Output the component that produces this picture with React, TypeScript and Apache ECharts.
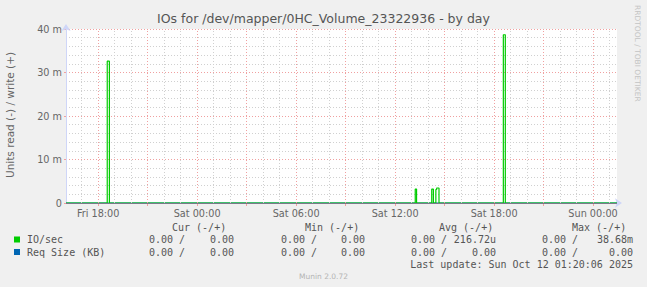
import React, { useEffect, useRef } from "react";
import * as echarts from "echarts";

// Hours since Fri 00:00
const xMin = 16.05;
const xMax = 49.45;
const xTickHours = [18, 24, 30, 36, 42, 48];
const xTickLabels = ["Fri 18:00", "Sat 00:00", "Sat 06:00", "Sat 12:00", "Sat 18:00", "Sun 00:00"];
const majorHours = [18, 21, 24, 27, 30, 33, 36, 39, 42, 45, 48];
const minorHours = [17, 19, 20, 22, 23, 25, 26, 28, 29, 31, 32, 34, 35, 37, 38, 40, 41, 43, 44, 46, 47, 49];

// IO/sec (write, milli units), step samples
const ioTimes = [16.05, 18.55, 18.68, 37.22, 37.3, 38.22, 38.32, 38.47, 38.52, 38.66, 42.56, 42.68, 49.45];
const ioValues = [0, 32.6, 0, 3.2, 0, 3.2, 0, 3.1, 3.45, 0, 38.68, 0, 0];

// Req Size (KB)
const reqTimes = [16.05, 49.45];
const reqValues = [0, 0];

const legendNames = ["IO/sec", "Req Size (KB)"];
const legendColors = ["#00CC00", "#0066B3"];
const headerLabels = ["Cur (-/+)", "Min (-/+)", "Avg (-/+)", "Max (-/+)"];
const ioReadStats = ["0.00", "0.00", "0.00", "0.00"];
const ioWriteStats = ["0.00", "0.00", "216.72u", "38.68m"];
const reqReadStats = ["0.00", "0.00", "0.00", "0.00"];
const reqWriteStats = ["0.00", "0.00", "0.00", "0.00"];
const lastUpdate = "Last update: Sun Oct 12 01:20:06 2025";

const FONT = "DejaVu Sans";
const MONO = "DejaVu Sans Mono";
const TXT = "#555555";

export default function App() {
  const ref = useRef<HTMLDivElement>(null);
  useEffect(() => {
    if (!ref.current) return;
    const chart = echarts.init(ref.current, null, { renderer: "svg" });

    const headerLeft = [172, 305, 439, 572];
    const colLeft = [149, 281, 411, 542];
    const colRight = [234, 365, 496, 633];
    const rowY = [239.5, 252];

    const graphic: any[] = [];
    graphic.push({
      type: "text", x: 323.5, y: 18,
      style: { text: "IOs for /dev/mapper/0HC_Volume_23322936 - by day", font: `12.5px '${FONT}'`, fill: TXT, textAlign: "center", textVerticalAlign: "middle" },
    });
    graphic.push({
      type: "text", x: 10, y: 115, rotation: Math.PI / 2,
      style: { text: "Units read (-) / write (+)", font: `10.5px '${FONT}'`, fill: "#666", textAlign: "center", textVerticalAlign: "middle" },
    });
    graphic.push({
      type: "text", x: 637, y: 5, rotation: -Math.PI / 2,
      style: { text: "RRDTOOL / TOBI OETIKER", font: `7.5px '${FONT}'`, fill: "#c4c4c4", textAlign: "left", textVerticalAlign: "middle" },
    });
    headerLabels.forEach((h, i) => {
      graphic.push({ type: "text", x: headerLeft[i], y: 227, style: { text: h, font: `10px '${MONO}'`, fill: TXT, textAlign: "left", textVerticalAlign: "middle" } });
    });
    const rows = [
      [ioReadStats, ioWriteStats],
      [reqReadStats, reqWriteStats],
    ];
    legendNames.forEach((n, r) => {
      graphic.push({ type: "rect", shape: { x: 14, y: rowY[r] - 3, width: 6, height: 6 }, style: { fill: legendColors[r] } });
      graphic.push({ type: "text", x: 27, y: rowY[r], style: { text: n, font: `10px '${MONO}'`, fill: TXT, textAlign: "left", textVerticalAlign: "middle" } });
      for (let c = 0; c < 4; c++) {
        graphic.push({ type: "text", x: colLeft[c], y: rowY[r], style: { text: rows[r][0][c] + " /", font: `10px '${MONO}'`, fill: TXT, textAlign: "left", textVerticalAlign: "middle" } });
        graphic.push({ type: "text", x: colRight[c], y: rowY[r], style: { text: rows[r][1][c], font: `10px '${MONO}'`, fill: TXT, textAlign: "right", textVerticalAlign: "middle" } });
      }
    });
    graphic.push({ type: "text", x: 633, y: 264, style: { text: lastUpdate, font: `10px '${MONO}'`, fill: TXT, textAlign: "right", textVerticalAlign: "middle" } });
    graphic.push({ type: "text", x: 323.5, y: 276, style: { text: "Munin 2.0.72", font: `7.5px '${FONT}'`, fill: "#b4b4b4", textAlign: "center", textVerticalAlign: "middle" } });

    const vLine = (hours: number[], color: string) => ({
      type: "line",
      data: [],
      z: 1,
      silent: true,
      markLine: {
        silent: true,
        symbol: ["none", "none"],
        label: { show: false },
        animation: false,
        lineStyle: { color, type: [1, 2], width: 1 },
        emphasis: { disabled: true },
        data: hours.map((h) => ({ xAxis: h })),
      },
    });

    chart.setOption({
      animation: false,
      backgroundColor: "#F0F0F0",
      grid: { left: 66, right: 30, top: 29, bottom: 84, show: true, backgroundColor: "#FFFFFF", borderWidth: 0 },
      xAxis: {
        type: "value",
        min: xMin,
        max: xMax,
        axisLine: { show: true, lineStyle: { color: "#CFD6F8", width: 1 }, symbol: ["none", "arrow"], symbolSize: [7, 7], symbolOffset: [0, 5] },
        axisTick: { show: true, customValues: majorHours, length: 3, lineStyle: { color: "#F0A0A0" } },
        splitLine: { show: false },
        axisLabel: {
          customValues: xTickHours,
          formatter: (v: number) => xTickLabels[xTickHours.indexOf(Math.round(v))] ?? "",
          color: "#666",
          fontFamily: FONT,
          fontSize: 9.7,
          margin: 5,
        },
      },
      yAxis: [
        {
          type: "value", min: 0, max: 40, interval: 2,
          axisLine: { show: true, lineStyle: { color: "#CFD6F8", width: 1 }, symbol: ["none", "arrow"], symbolSize: [7, 7], symbolOffset: [0, 5] },
          axisTick: { show: false },
          axisLabel: { show: false },
          splitLine: { show: true, lineStyle: { color: "#D0D0D0", type: [1, 2], width: 1 } },
        },
        {
          type: "value", min: 0, max: 40, interval: 10, position: "left",
          axisLine: { show: false },
          axisTick: { show: true, length: 2, lineStyle: { color: "#F0A0A0" } },
          axisLabel: {
            formatter: (v: number) => (v === 0 ? "0" : `${v} m`),
            color: "#666",
            fontFamily: FONT,
            fontSize: 9.7,
            margin: 4,
          },
          splitLine: { show: true, lineStyle: { color: "#F0A0A0", type: [1, 2], width: 1 } },
        },
      ],
      series: [
        vLine(minorHours, "#D0D0D0"),
        vLine(majorHours, "#F0A0A0"),
        {
          type: "line",
          name: legendNames[1],
          data: reqTimes.map((t, i) => [t, reqValues[i]]),
          step: "end",
          symbol: "none",
          lineStyle: { color: legendColors[1], width: 1 },
          z: 2,
        },
        {
          type: "line",
          name: legendNames[0],
          data: ioTimes.map((t, i) => [t, ioValues[i]]),
          step: "end",
          symbol: "none",
          lineStyle: { color: legendColors[0], width: 1.2 },
          z: 3,
        },
        {
          type: "line",
          data: [],
          z: 4,
          silent: true,
          markLine: {
            silent: true,
            symbol: ["none", "none"],
            label: { show: false },
            lineStyle: { color: "#7A7A8A", type: "solid", width: 1.2 },
            emphasis: { disabled: true },
            data: [{ yAxis: 0 }],
          },
        },
      ],
      graphic,
    });
    return () => chart.dispose();
  }, []);
  return <div ref={ref} style={{ position: "absolute", left: 0, top: 0, width: 647, height: 287 }} />;
}
